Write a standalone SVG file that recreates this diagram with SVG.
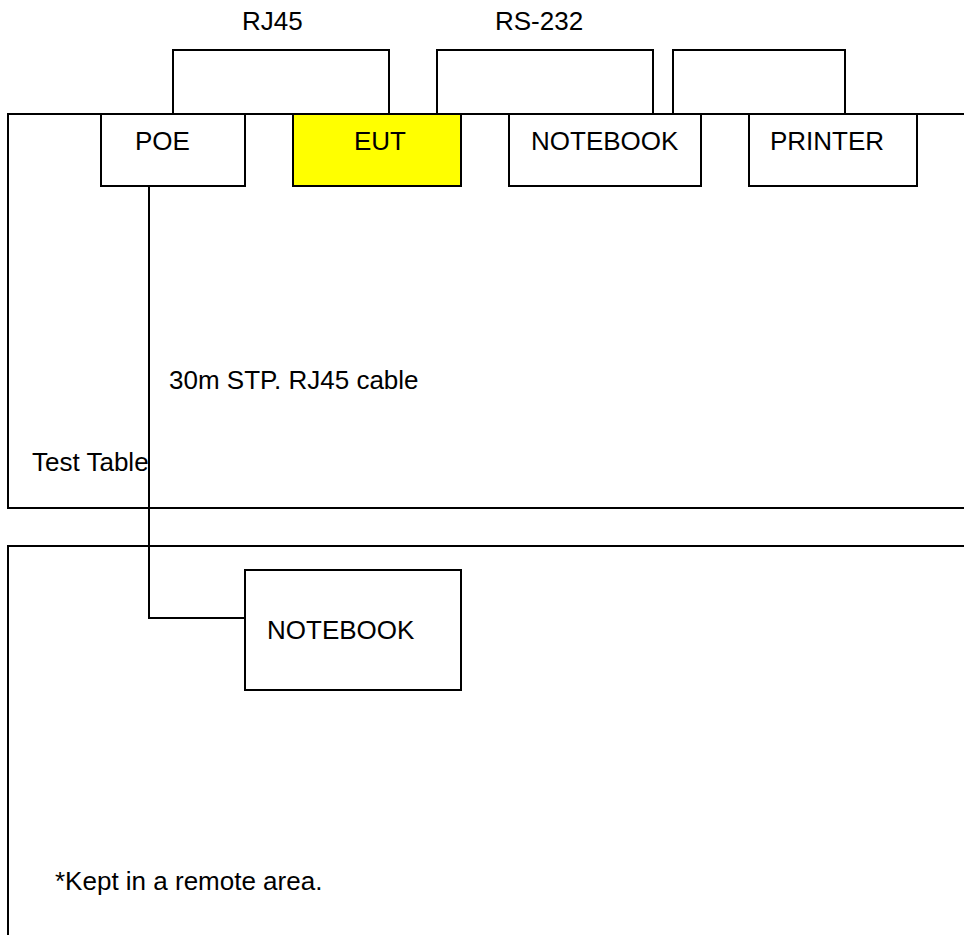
<svg xmlns="http://www.w3.org/2000/svg" width="964" height="935" viewBox="0 0 964 935">
<style>
.ln{fill:none;stroke:#000;stroke-width:2}
.bx{fill:#fff;stroke:#000;stroke-width:2}
.t{font-family:"Liberation Sans",Arial,sans-serif;font-size:26px;fill:#000}
</style>
<rect width="964" height="935" fill="#fff"/>
<g id="test-table">
<path class="ln" d="M970,114 H8 V508 H970"/>
<text class="t" x="32" y="471">Test Table</text>
</g>
<g id="remote-area">
<path class="ln" d="M970,546 H8 V940"/>
<text class="t" x="55" y="890">*Kept in a remote area.</text>
</g>
<g id="connectors">
<path class="ln" d="M173,114 V50 H389 V114"/>
<path class="ln" d="M437,114 V50 H653 V114"/>
<path class="ln" d="M673,114 V50 H845 V114"/>
<path class="ln" d="M149,186 V618 H245"/>
<text class="t" x="242" y="30">RJ45</text>
<text class="t" x="495" y="30">RS-232</text>
<text class="t" x="169" y="389">30m STP. RJ45 cable</text>
</g>
<g id="poe">
<rect class="bx" x="101" y="114" width="144" height="72"/>
<text class="t" x="135" y="150">POE</text>
</g>
<g id="eut">
<rect class="bx" x="293" y="114" width="168" height="72" style="fill:#ffff00"/>
<text class="t" x="354" y="150">EUT</text>
</g>
<g id="notebook">
<rect class="bx" x="509" y="114" width="192" height="72"/>
<text class="t" x="531" y="150">NOTEBOOK</text>
</g>
<g id="printer">
<rect class="bx" x="749" y="114" width="168" height="72"/>
<text class="t" x="770" y="150">PRINTER</text>
</g>
<g id="remote-notebook">
<rect class="bx" x="245" y="570" width="216" height="120"/>
<text class="t" x="267" y="639">NOTEBOOK</text>
</g>
</svg>
